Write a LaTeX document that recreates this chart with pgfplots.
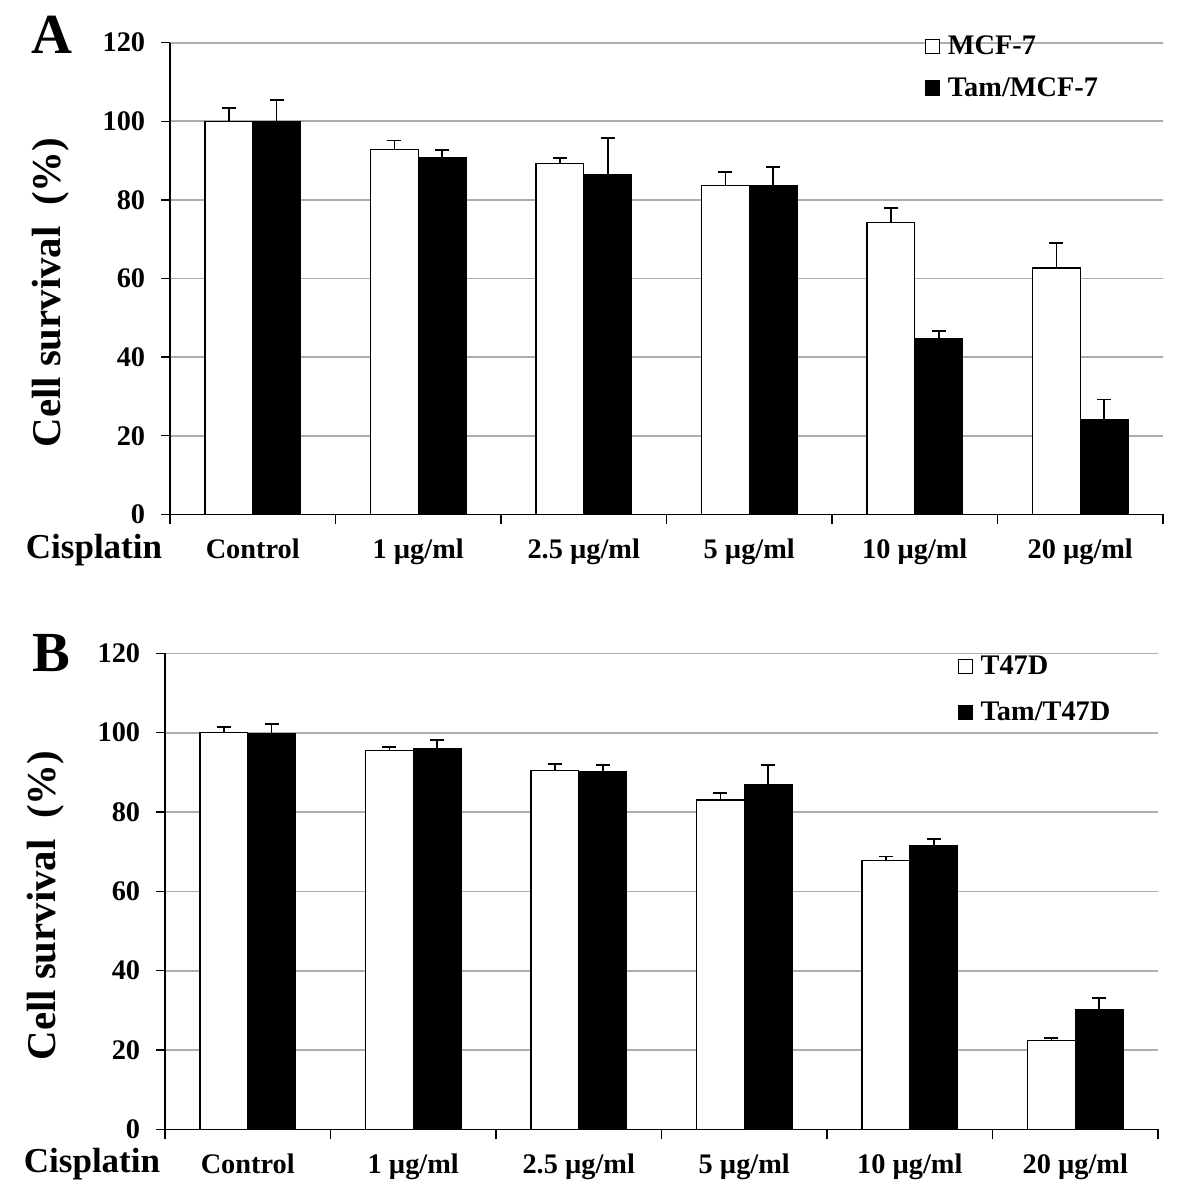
\documentclass[border=0pt]{standalone}
\usepackage{pgfplots}
\pgfplotsset{compat=1.18}
\usepackage{fontspec}
\setmainfont{Liberation Serif}
\begin{document}
\begin{tikzpicture}
\useasboundingbox (0,0) rectangle (708.6pt,-720.6pt);
\pgfplotsset{
  panel/.style={
    scale only axis, width=595.8pt,
    xmin=-0.5, xmax=5.5, ymin=0, ymax=120,
    axis lines*=left,
    axis line style={black, line width=0.8pt},
    ytick={0,20,...,120},
    xtick={0,...,5},
    xticklabels={Control, 1 µg/ml, 2.5 µg/ml, 5 µg/ml, 10 µg/ml, 20 µg/ml},
    minor xtick={-0.5,0.5,...,5.5},
    major x tick style={draw=none},
    tick style={black, line width=0.8pt},
    major tick length=5.4pt,
    minor tick length=6pt,
    tick align=outside,
    ymajorgrids,
    grid style={line width=1pt, black!32},
    /pgf/number format/assume math mode=true,
    ticklabel style={font=\fontsize{17}{20}\selectfont\bfseries},
    yticklabel style={xshift=-6pt},
    xticklabel style={yshift=-6pt},
    every axis y label/.style={at={(axis description cs:-0.12,0.47)}, rotate=90, anchor=center,
      font=\fontsize{24.5}{28}\selectfont\bfseries},
    ylabel={Cell survival\ \ (\%)},
    ybar, bar width=0.288,
    error bars/error bar style={line width=1.1pt, black},
    error bars/error mark options={rotate=90, mark size=4.2pt, line width=1.1pt, black},
    legend image code/.code={\draw[#1, line width=0.7pt] (0pt,-4.2pt) rectangle (8.4pt,4.2pt); \path (11.5pt,0pt);},
    legend cell align=left,
    legend style={draw=none, fill=none, inner sep=0pt,
      font=\fontsize{17}{20}\selectfont\bfseries,
      nodes={inner sep=1.5pt}},
    clip=false,
  },
  wbar/.style={draw=black, fill=white, line width=0.8pt, bar shift=-0.144,
    error bars/.cd, y dir=plus, y explicit},
  kbar/.style={draw=black, fill=black, line width=0.8pt, bar shift=0.144,
    error bars/.cd, y dir=plus, y explicit},
}
% Panel A
\begin{axis}[panel, height=283pt, at={(102pt,-308.6pt)}, anchor=south west,
  legend style={at={(axis description cs:0.76,1.02)}, anchor=north west, row sep=9pt}]
\addplot[wbar] coordinates {
 (0,100) +- (0,3.4)
 (1,92.9) +- (0,2.2)
 (2,89.2) +- (0,1.4)
 (3,83.6) +- (0,3.6)
 (4,74.2) +- (0,3.7)
 (5,62.7) +- (0,6.3)
};
\addplot[kbar] coordinates {
 (0,100) +- (0,5.5)
 (1,90.8) +- (0,1.8)
 (2,86.3) +- (0,9.5)
 (3,83.6) +- (0,4.8)
 (4,44.6) +- (0,2.0)
 (5,24.1) +- (0,5.1)
};
\legend{MCF-7, Tam/MCF-7}
\node[font=\fontsize{21}{24}\selectfont\bfseries, anchor=west] at (axis description cs:-0.151,-0.075) {Cisplatin};
\node[font=\fontsize{34}{38}\selectfont\bfseries] at (axis description cs:-0.119,1.016) {A};
\end{axis}
% Panel B
\begin{axis}[panel, height=285.6pt, at={(99pt,-677.6pt)}, anchor=south west,
  legend style={at={(axis description cs:0.798,1.0)}, anchor=north west, row sep=12pt}]
\addplot[wbar] coordinates {
 (0,100) +- (0,1.4)
 (1,95.5) +- (0,0.9)
 (2,90.4) +- (0,1.8)
 (3,83.0) +- (0,1.7)
 (4,67.8) +- (0,1.0)
 (5,22.4) +- (0,0.7)
};
\addplot[kbar] coordinates {
 (0,99.8) +- (0,2.3)
 (1,96.0) +- (0,2.2)
 (2,90.1) +- (0,1.7)
 (3,86.8) +- (0,5.0)
 (4,71.5) +- (0,1.8)
 (5,30.1) +- (0,3.0)
};
\legend{T47D, Tam/T47D}
\node[font=\fontsize{21}{24}\selectfont\bfseries, anchor=west] at (axis description cs:-0.148,-0.072) {Cisplatin};
\node[font=\fontsize{34}{38}\selectfont\bfseries] at (axis description cs:-0.114,1.0) {B};
\end{axis}
\end{tikzpicture}
\end{document}
